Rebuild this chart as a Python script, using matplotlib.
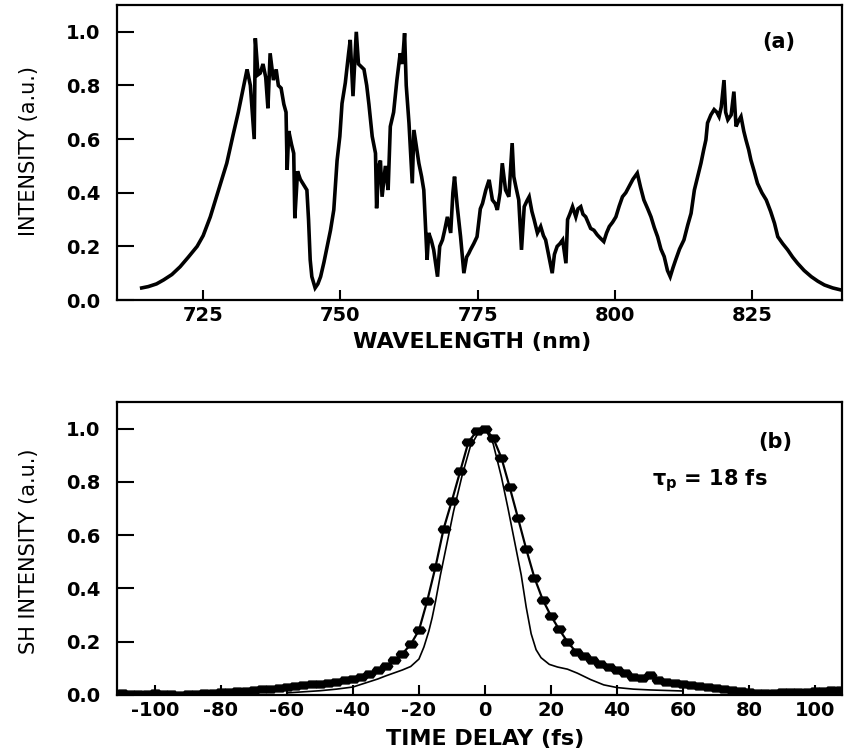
import matplotlib
matplotlib.use("Agg")
import matplotlib.pyplot as plt
import numpy as np

plt.rcParams['font.family'] = ['DejaVu Sans']
plt.rcParams['axes.unicode_minus'] = False

# ---------------- Panel (a): spectrum ----------------
wavelength_nm = [
    713.8, 715.0, 716.5, 717.8, 719.3, 720.8, 722.3, 723.9, 725.0, 726.3,
    727.8, 729.3, 730.5, 731.4, 732.4, 733.0, 733.6, 734.3, 734.5, 735.0,
    735.4, 735.9, 736.4, 736.8, 737.2, 737.8, 738.3, 738.7, 739.2, 739.7,
    740.1, 740.3, 740.6, 741.1, 741.5, 741.7, 742.2, 742.7, 743.3, 743.9,
    744.2, 744.5, 744.8, 745.4, 745.9, 746.4, 747.0, 747.6, 748.2, 748.8,
    749.4, 749.9, 750.3, 750.9, 751.5, 751.8, 752.3, 752.9, 753.3, 753.8,
    754.3, 754.8, 755.2, 755.8, 756.4, 756.6, 757.0, 757.3, 757.6, 758.2,
    758.7, 759.1, 759.7, 760.3, 760.9, 761.3, 761.7, 762.0, 762.5, 763.1,
    763.4, 763.8, 764.3, 764.8, 765.2, 765.8, 766.1, 766.6, 767.0, 767.7,
    768.1, 768.6, 769.0, 769.5, 770.1, 770.5, 770.8, 771.3, 771.9, 772.5,
    773.0, 773.4, 773.7, 774.3, 774.9, 775.5, 775.9, 776.5, 777.1, 777.7,
    778.2, 778.6, 779.1, 779.5, 780.1, 780.7, 781.3, 781.6, 782.0, 782.5,
    783.0, 783.5, 784.0, 784.4, 784.9, 785.3, 785.9, 786.5, 787.0, 787.4,
    788.0, 788.6, 789.0, 789.5, 790.0, 790.5, 791.1, 791.4, 791.8, 792.3,
    792.9, 793.3, 793.8, 794.2, 794.7, 795.6, 796.2, 796.8, 797.4, 798.0,
    798.5, 799.0, 799.6, 800.2, 800.8, 801.4, 802.0, 802.6, 803.3, 804.1,
    804.7, 805.3, 806.0, 806.6, 807.2, 807.8, 808.4, 809.0, 809.6, 810.1,
    810.6, 811.1, 811.8, 812.6, 813.3, 813.9, 814.5, 815.1, 815.7, 816.2,
    816.6, 816.9, 817.5, 818.1, 818.6, 819.0, 819.4, 819.9, 820.2, 820.6,
    821.2, 821.7, 822.1, 822.6, 823.0, 823.5, 823.9, 824.4, 824.8, 825.4,
    826.0, 826.8, 827.6, 828.4, 829.1, 829.7, 830.6, 831.5, 832.4, 833.3,
    834.5, 835.8, 837.0, 838.2, 839.7, 841.3,
]
intensity = [
    0.045, 0.050, 0.060, 0.075, 0.095, 0.124, 0.160, 0.200, 0.240, 0.310,
    0.410, 0.510, 0.620, 0.700, 0.800, 0.860, 0.800, 0.600, 0.976, 0.840,
    0.846, 0.880, 0.830, 0.715, 0.920, 0.820, 0.860, 0.800, 0.790, 0.730,
    0.700, 0.485, 0.630, 0.580, 0.547, 0.305, 0.480, 0.450, 0.430, 0.410,
    0.300, 0.150, 0.087, 0.045, 0.060, 0.087, 0.140, 0.200, 0.260, 0.336,
    0.520, 0.610, 0.733, 0.810, 0.920, 0.970, 0.760, 1.000, 0.880, 0.870,
    0.860, 0.800, 0.730, 0.610, 0.547, 0.342, 0.500, 0.520, 0.385, 0.500,
    0.410, 0.647, 0.700, 0.820, 0.920, 0.880, 0.995, 0.800, 0.660, 0.435,
    0.634, 0.580, 0.510, 0.460, 0.410, 0.150, 0.250, 0.220, 0.187, 0.087,
    0.200, 0.224, 0.260, 0.310, 0.250, 0.400, 0.460, 0.348, 0.236, 0.100,
    0.160, 0.174, 0.187, 0.210, 0.236, 0.340, 0.360, 0.410, 0.448, 0.373,
    0.360, 0.336, 0.400, 0.510, 0.410, 0.385, 0.585, 0.460, 0.420, 0.373,
    0.187, 0.348, 0.370, 0.385, 0.330, 0.300, 0.250, 0.274, 0.240, 0.224,
    0.162, 0.100, 0.170, 0.200, 0.210, 0.224, 0.137, 0.300, 0.320, 0.348,
    0.310, 0.340, 0.348, 0.320, 0.310, 0.267, 0.260, 0.243, 0.230, 0.218,
    0.250, 0.274, 0.290, 0.310, 0.350, 0.385, 0.400, 0.423, 0.450, 0.473,
    0.420, 0.373, 0.340, 0.310, 0.270, 0.236, 0.190, 0.162, 0.110, 0.087,
    0.120, 0.150, 0.190, 0.224, 0.280, 0.323, 0.410, 0.460, 0.510, 0.560,
    0.597, 0.660, 0.690, 0.710, 0.700, 0.684, 0.720, 0.820, 0.700, 0.672,
    0.690, 0.777, 0.647, 0.670, 0.684, 0.630, 0.597, 0.560, 0.522, 0.480,
    0.435, 0.400, 0.373, 0.330, 0.286, 0.236, 0.210, 0.187, 0.160, 0.137,
    0.110, 0.087, 0.070, 0.056, 0.045, 0.037,
]
wl_ticks = [725, 750, 775, 800, 825]

# ---------------- Panel (b): autocorrelation ----------------
delay_meas_fs = [
    -110.0, -107.5, -105.0, -102.5, -100.0, -97.5, -95.0, -92.5, -90.0, -87.5,
    -85.0, -82.5, -80.0, -77.5, -75.0, -72.5, -70.0, -67.5, -65.0, -62.5,
    -60.0, -57.5, -55.0, -52.5, -50.0, -47.5, -45.0, -42.5, -40.0, -37.5,
    -35.0, -32.5, -30.0, -27.5, -25.0, -22.5, -20.0, -17.5, -15.0, -12.5,
    -10.0, -7.5, -5.0, -2.5, 0.0, 2.5, 5.0, 7.5, 10.0, 12.5,
    15.0, 17.5, 20.0, 22.5, 25.0, 27.5, 30.0, 32.5, 35.0, 37.5,
    40.0, 42.5, 45.0, 47.5, 50.0, 52.5, 55.0, 57.5, 60.0, 62.5,
    65.0, 67.5, 70.0, 72.5, 75.0, 77.5, 80.0, 82.5, 85.0, 87.5,
    90.0, 92.5, 95.0, 97.5, 100.0, 102.5, 105.0, 107.5,
]
sh_meas = [
    0.006, 0.005, 0.004, 0.004, 0.006, 0.004, 0.003, 0.001, 0.003, 0.004,
    0.006, 0.008, 0.010, 0.012, 0.014, 0.016, 0.018, 0.021, 0.024, 0.027,
    0.030, 0.034, 0.037, 0.040, 0.043, 0.046, 0.050, 0.055, 0.060, 0.068,
    0.078, 0.093, 0.110, 0.130, 0.155, 0.190, 0.243, 0.353, 0.480, 0.625,
    0.730, 0.840, 0.950, 0.990, 1.000, 0.965, 0.890, 0.780, 0.665, 0.548,
    0.440, 0.358, 0.297, 0.246, 0.200, 0.163, 0.145, 0.132, 0.118, 0.105,
    0.095, 0.082, 0.069, 0.062, 0.076, 0.058, 0.050, 0.046, 0.042, 0.037,
    0.033, 0.029, 0.026, 0.021, 0.018, 0.014, 0.011, 0.009, 0.008, 0.009,
    0.011, 0.012, 0.012, 0.013, 0.015, 0.016, 0.018, 0.019,
]
delay_calc_fs = [
    -60.0, -55.0, -50.0, -45.0, -40.0, -37.5, -35.0, -32.5, -30.0, -27.5,
    -25.0, -22.5, -20.0, -18.5, -17.0, -16.0, -15.0, -13.5, -11.5, -9.5,
    -7.0, -4.5, -2.0, 0.0, 2.5, 5.0, 7.0, 9.0, 11.0, 12.5,
    14.0, 15.5, 17.0, 19.5, 22.0, 25.0, 28.0, 32.0, 36.0, 40.0,
    45.0, 50.0, 55.0, 60.0,
]
sh_calc = [
    0.008, 0.012, 0.016, 0.022, 0.030, 0.040, 0.050, 0.060, 0.072, 0.083,
    0.094, 0.107, 0.135, 0.180, 0.240, 0.290, 0.350, 0.450, 0.570, 0.690,
    0.820, 0.930, 0.985, 1.000, 0.943, 0.818, 0.700, 0.575, 0.450, 0.330,
    0.230, 0.170, 0.140, 0.115, 0.105, 0.097, 0.082, 0.058, 0.038, 0.028,
    0.022, 0.019, 0.017, 0.015,
]
delay_ticks = [-100, -80, -60, -40, -20, 0, 20, 40, 60, 80, 100]
y_ticks = [0.0, 0.2, 0.4, 0.6, 0.8, 1.0]

W, H = 846, 752
fig = plt.figure(figsize=(W / 100, H / 100), dpi=100)

def frac(l, t, r, b):
    return [l / W, 1 - b / H, (r - l) / W, (b - t) / H]

ax1 = fig.add_axes(frac(117, 5, 842, 300))
ax2 = fig.add_axes(frac(117, 402, 842, 695))

tick_font = dict(family='DejaVu Sans', weight='bold', size=14)

for ax in (ax1, ax2):
    for s in ax.spines.values():
        s.set_linewidth(1.6)
        s.set_color('black')
    ax.tick_params(axis='y', direction='in', length=12.5, width=1.5, pad=12)
    ax.tick_params(axis='x', direction='in', length=7, width=1.5, pad=4)
    ax.set_yticks(y_ticks)
    ax.set_yticklabels([f"{v:.1f}" for v in y_ticks], fontdict=tick_font)
    ax.set_ylim(0, 1.1)

# Panel (a)
ax1.plot(wavelength_nm, intensity, color='black', lw=2.6, solid_joinstyle='miter')
ax1.set_xlim(709.3, 841.4)
ax1.set_xticks(wl_ticks)
ax1.set_xticklabels([str(v) for v in wl_ticks], fontdict=tick_font)
ax1.set_xlabel('WAVELENGTH (nm)', fontsize=16, fontweight='bold', family='DejaVu Sans')
ax1.xaxis.label.set_va('center')
ax1.xaxis.set_label_coords((472 - 117) / 725, (300 - 342) / 295)
ax1.set_ylabel('INTENSITY (a.u.)', fontsize=15, family='DejaVu Sans')
ax1.yaxis.label.set_va('center')
ax1.yaxis.set_label_coords((29 - 117) / 725, (300 - 151) / 295)
ax1.text((779 - 117) / 725, (300 - 42) / 295, '(a)', transform=ax1.transAxes,
         ha='center', va='center', fontsize=15, fontweight='bold')

# Panel (b)
marker_shape = [(-1, 0), (-0.6, 0.55), (0.6, 0.55), (1, 0), (0.6, -0.55), (-0.6, -0.55), (-1, 0)]
ax2.plot(delay_meas_fs, sh_meas, color='black', lw=1.6, marker=marker_shape,
         markersize=9, markerfacecolor='black', markeredgecolor='black')
ax2.plot(delay_calc_fs, sh_calc, color='black', lw=1.2)
ax2.set_xlim(-111.5, 108.2)
ax2.set_xticks(delay_ticks)
ax2.set_xticklabels([str(v) for v in delay_ticks], fontdict=tick_font)
ax2.set_xlabel('TIME DELAY (fs)', fontsize=16, fontweight='bold', family='DejaVu Sans')
ax2.xaxis.label.set_va('center')
ax2.xaxis.set_label_coords((485 - 117) / 725, (695 - 739) / 293)
ax2.set_ylabel('SH INTENSITY (a.u.)', fontsize=15, family='DejaVu Sans')
ax2.yaxis.label.set_va('center')
ax2.yaxis.set_label_coords((29 - 117) / 725, (695 - 551) / 293)
ax2.text((775 - 117) / 725, (695 - 442) / 293, '(b)', transform=ax2.transAxes,
         ha='center', va='center', fontsize=15, fontweight='bold')
ax2.text((652 - 117) / 725, (695 - 481) / 293, r'$\mathregular{\tau_p}$ = 18 fs',
         transform=ax2.transAxes, ha='left', va='center', fontsize=15, fontweight='bold')

fig.savefig('out.png', dpi=100)
